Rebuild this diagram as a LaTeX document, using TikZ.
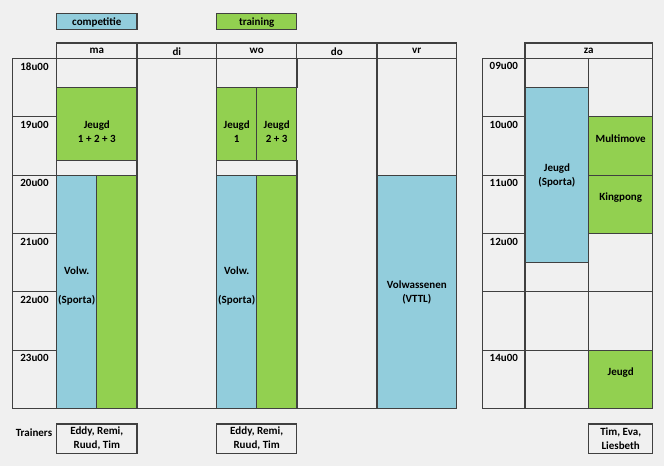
\documentclass[tikz,border=0pt]{standalone}
\usepackage{fontspec}
\setmainfont{Carlito}
\definecolor{bgray}{HTML}{F0F0F0}
\definecolor{gridgray}{HTML}{404040}
\definecolor{compblue}{HTML}{92CDDC}
\definecolor{traingreen}{HTML}{92D050}
\newcommand\rowtop{58.3}
\newcommand\hourh{58.4}
\tikzset{
  cell/.style={draw=gridgray,line width=1.1pt},
  comp/.style={cell,fill=compblue},
  train/.style={cell,fill=traingreen},
  txt/.style={font=\bfseries\fontsize{11}{14}\selectfont,align=center,inner sep=0pt}
}
\begin{document}
\begin{tikzpicture}[x=1pt,y=-1pt]
\path[use as bounding box,fill=bgray] (0,0) rectangle (664,466);
\draw[comp] (56.7,13.3) rectangle (137,29.3);
\node[txt] (comp) at (96.8,22.2) {competitie};
\draw[train] (216.7,13.3) rectangle (296.7,29.3);
\node[txt] (train) at (256.7,22.2) {training};
\draw[cell] (56.7,43) rectangle (456.7,\rowtop);
\foreach \x in {56.7,137,216.7,296.7,377,456.7}
  \draw[cell] (\x,43)--(\x,408.7);
\draw[cell] (12.3,408.7)--(456.7,408.7);
\foreach \d/\x in {ma/96.8,di/176.8,wo/256.7,do/336.8,vr/416.8}
  \node[txt] (\d) at (\x,51.2) {\d};
\foreach \t [count=\i from 0] in {18,...,23}{
  \draw[cell] (12.3,{\rowtop+\i*\hourh}) rectangle (56.7,{\rowtop+(\i+1)*\hourh});
  \node[txt] (t\t) at (34.5,{\rowtop+\i*\hourh+8}) {\t u00};
}
\foreach \x in {56.7,216.7}{
  \draw[cell] (\x,\rowtop) rectangle (\x+80.3,87.5);
  \draw[cell] (\x,160.5) rectangle (\x+80.3,175.1);
  \draw[comp] (\x,175.1) rectangle (\x+40,408.7);
  \draw[train] (\x+40,175.1) rectangle (\x+80.3,408.7);
}
\draw[train] (56.7,87.5) rectangle (137,160.5);
\node[txt] (ma1) at (96.8,131.8) {Jeugd\\1 + 2 + 3};
\draw[train] (216.7,87.5) rectangle (256.7,160.5);
\draw[train] (256.7,87.5) rectangle (296.7,160.5);
\node[txt] (wo1) at (236.7,131.8) {Jeugd\\1};
\node[txt] (wo2) at (276.7,131.8) {Jeugd\\2 + 3};
\node[txt] (ma2) at (76.7,285.8) {Volw.\\[14.5pt](Sporta)};
\node[txt] (wo3) at (236.7,285.8) {Volw.\\[14.5pt](Sporta)};
\draw[cell] (377,\rowtop) rectangle (456.7,175.1);
\draw[comp] (377,175.1) rectangle (456.7,408.7);
\node[txt] (vr1) at (416.8,292.8) {Volwassenen\\(VTTL)};
\draw[cell] (525,43) rectangle (652.7,\rowtop);
\node[txt] (za) at (588.8,51.2) {za};
\foreach \i in {0,...,5}{
  \draw[cell] (482.7,{\rowtop+\i*\hourh}) rectangle (525,{\rowtop+(\i+1)*\hourh});
  \draw[cell] (525,{\rowtop+\i*\hourh}) rectangle (588.7,{\rowtop+(\i+1)*\hourh});
  \draw[cell] (588.7,{\rowtop+\i*\hourh}) rectangle (652.7,{\rowtop+(\i+1)*\hourh});
}
\foreach \t/\i in {09/0,10/1,11/2,12/3,14/5}
  \node[txt] (s\t) at (503.8,{\rowtop+\i*\hourh+8}) {\t u00};
\draw[comp] (525,87.5) rectangle (588.7,262.7);
\node[txt] (za1) at (556.9,175.7) {Jeugd\\(Sporta)};
\draw[train] (588.7,116.7) rectangle (652.7,175.1);
\node[txt] (za2) at (620.7,138.8) {Multimove};
\draw[train] (588.7,175.1) rectangle (652.7,233.5);
\node[txt] (za3) at (620.7,197.8) {Kingpong};
\draw[train] (588.7,350.3) rectangle (652.7,408.7);
\node[txt] (za4) at (620.7,372.8) {Jeugd};
\node[txt] (trainers) at (34,432.2) {Trainers};
\draw[cell] (56.7,424) rectangle (137,453.3);
\node[txt] (tr1) at (96.8,438.8) {Eddy, Remi,\\Ruud, Tim};
\draw[cell] (216.7,424) rectangle (296.7,453.3);
\node[txt] (tr2) at (256.7,438.8) {Eddy, Remi,\\Ruud, Tim};
\draw[cell] (588.7,424) rectangle (652.7,453.3);
\node[txt] (tr3) at (620.7,438.8) {Tim, Eva,\\Liesbeth};
\end{tikzpicture}
\end{document}
